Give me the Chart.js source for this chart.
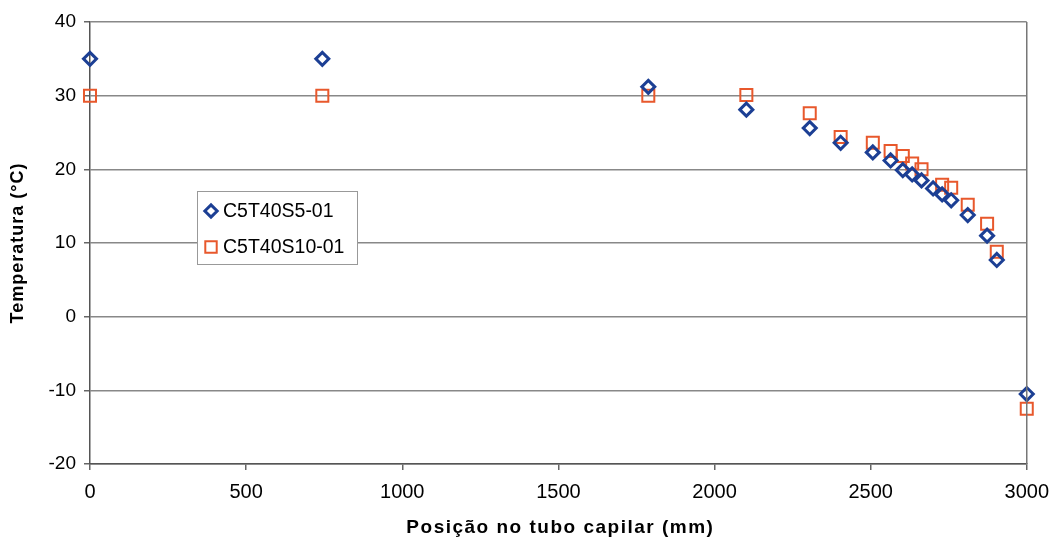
<!DOCTYPE html>
<html>
<head>
<meta charset="utf-8">
<script src="https://cdn.jsdelivr.net/npm/chart.js@4"></script>
<style>
html,body{margin:0;padding:0;background:#fff;}
#wrap{width:1059px;height:544px;}
</style>
</head>
<body>
<div id="wrap"><canvas id="tempChart" width="1059" height="544"></canvas></div>
<script>
// posição (mm) e temperatura (°C) de cada ensaio
const posS5=[0,744,1788,2102,2305,2404,2507,2564,2603,2633,2663,2700,2729,2758,2811,2873,2904,3000];
const tempS5=[35,35,31.2,28.1,25.6,23.6,22.3,21.2,19.9,19.3,18.5,17.4,16.6,15.8,13.8,11.0,7.7,-10.5];
const posS10=[0,744,1788,2102,2305,2404,2507,2564,2603,2633,2663,2729,2758,2811,2873,2904,3000];
const tempS10=[30,30,30,30.1,27.6,24.4,23.6,22.5,21.8,20.8,20.0,17.9,17.5,15.2,12.6,8.8,-12.5];
const seriesNames=["C5T40S5-01","C5T40S10-01"];
const xTitle="Posição no tubo capilar (mm)";
const yTitle="Temperatura (°C)";

const FONT="'Liberation Sans', Arial, sans-serif";

function toPoints(xs,ys){
return xs.map((x,i)=>({x:x,y:ys[i]}));
}

// moldura, legenda e títulos dos eixos
const extras={
id:"extras",
afterDatasetsDraw(chart){
const ctx=chart.ctx;
const a=chart.chartArea;
ctx.save();
ctx.strokeStyle="#777";
ctx.lineWidth=1.5;
ctx.beginPath();
ctx.moveTo(a.right,a.top);
ctx.lineTo(a.right,a.bottom);
ctx.stroke();

// legenda
const lx=197,ly=191,lw=160,lh=73;
ctx.fillStyle="#fff";
ctx.fillRect(lx,ly,lw,lh);
ctx.strokeStyle="#999";
ctx.lineWidth=1;
ctx.strokeRect(lx+0.5,ly+0.5,lw,lh);
ctx.font="19.5px "+FONT;
ctx.textBaseline="middle";
chart.data.datasets.forEach((ds,i)=>{
const cy=ly+20+i*36;
ctx.fillStyle="rgba(0,0,0,0)";
ctx.strokeStyle=ds.borderColor;
ctx.lineWidth=ds.borderWidth;
Chart.helpers.drawPoint(ctx,{pointStyle:ds.pointStyle,radius:ds.pointRadius*0.95,borderWidth:ds.borderWidth},lx+14,cy);
ctx.fillStyle="#000";
ctx.fillText(ds.label,lx+26,cy+1);
});

// títulos
ctx.fillStyle="#000";
ctx.font="bold 19px "+FONT;
ctx.letterSpacing="1.5px";
ctx.textAlign="center";
ctx.textBaseline="middle";
ctx.fillText(xTitle,(a.left+a.right)/2+2,528);
ctx.font="bold 18px "+FONT;
ctx.letterSpacing="1px";
ctx.translate(18,(a.top+a.bottom)/2);
ctx.rotate(-Math.PI/2);
ctx.fillText(yTitle,0,0);
ctx.restore();
}
};

new Chart(document.getElementById("tempChart"),{
type:"scatter",
data:{
datasets:[
{label:seriesNames[0],data:toPoints(posS5,tempS5),pointStyle:"rectRot",pointRadius:6.5,pointHoverRadius:6.5,
borderColor:"#1c3f94",backgroundColor:"rgba(0,0,0,0)",borderWidth:3,clip:false},
{label:seriesNames[1],data:toPoints(posS10,tempS10),pointStyle:"rect",pointRadius:8.5,pointHoverRadius:8.5,
borderColor:"#e8582c",backgroundColor:"rgba(0,0,0,0)",borderWidth:2,clip:false}
]
},
options:{
responsive:false,
animation:false,
layout:{padding:{top:22,right:32,left:0,bottom:0}},
plugins:{legend:{display:false},tooltip:{enabled:false}},
scales:{
x:{
type:"linear",min:0,max:3000,
afterFit(s){s.height=80;},
ticks:{stepSize:500,color:"#000",font:{family:FONT,size:20},padding:10,maxRotation:0,callback:v=>String(v)},
grid:{drawOnChartArea:false,tickLength:6,color:"#666",lineWidth:1.5},
border:{color:"#555",width:1.5}
},
y:{
min:-20,max:40,
afterFit(s){s.width=90;},
ticks:{stepSize:10,color:"#000",font:{family:FONT,size:19},padding:8},
grid:{color:"#888",lineWidth:1.5,tickLength:6,tickColor:"#666"},
border:{color:"#555",width:1.5}
}
}
},
plugins:[extras]
});
</script>
</body>
</html>
